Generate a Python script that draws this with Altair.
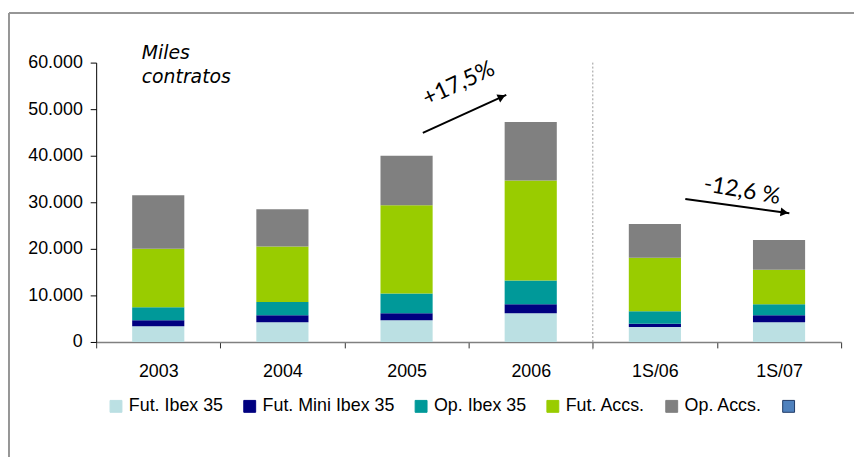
import altair as alt
import pandas as pd

# ---------------- data ----------------
periods = ["2003", "2004", "2005", "2006", "1S/06", "1S/07"]
series_names = ["Fut. Ibex 35", "Fut. Mini Ibex 35", "Op. Ibex 35", "Fut. Accs.", "Op. Accs.", " "]
fut_ibex = [3400, 4260, 4680, 6170, 3190, 4260]
fut_mini = [1280, 1480, 1490, 1920, 710, 1480]
op_ibex = [2770, 2840, 4260, 5100, 2700, 2350]
fut_accs = [12550, 11910, 18930, 21490, 11490, 7440]
op_accs = [11500, 8010, 10640, 12550, 7230, 6380]
fill_colors = ["#BBE0E3", "#000080", "#009999", "#99CC00", "#808080", "#4F81BD"]
stroke_colors = ["#BBE0E3", "#000080", "#009999", "#99CC00", "#808080", "#1F3A66"]
y_ticks = [0, 10000, 20000, 30000, 40000, 50000, 60000]

# annotations (x in category units 0..6, y in data units)
arrow_x = [2.631, 4.745]
arrow_y = [44890, 30720]
arrow_x2 = [3.303, 5.583]
arrow_y2 = [53060, 27660]
head_x = [3.267, 5.543]
head_y = [52620, 27810]
head_angle = [335.4, 7.8]
note_text = ["+17,5%", "-12,6 %"]
note_x = [2.92, 5.202]
note_y = [55470, 32490]
note_angle = [335, 10]
unit_text = ["Miles", "contratos"]
unit_x = [0.367, 0.367]
unit_y = [60850, 55530]

all_series = [fut_ibex, fut_mini, op_ibex, fut_accs, op_accs]
rows = []
for i, (name, vals) in enumerate(zip(series_names[:5], all_series)):
    for p, v in zip(periods, vals):
        rows.append({"period": p, "series": name, "value": v, "idx": i})
df = pd.DataFrame(rows)

W, H = 752, 282
yscale = alt.Scale(domain=[0, 60000], nice=False, zero=True)
xq = alt.Scale(domain=[0, 6], nice=False, zero=False)
y_axis = alt.Axis(title=None, values=y_ticks, grid=False,
                  labelExpr="replace(format(datum.value, ','), ',', '.')",
                  labelFont="Liberation Sans", labelFontSize=18,
                  labelColor="#000000", labelPadding=8, tickSize=6,
                  tickColor="#000000", domainColor="#000000", domainWidth=1)

legend_cfg = dict(
    orient="none", legendX=11, legendY=338, direction="horizontal", columns=6,
    symbolType="square", symbolSize=144, symbolStrokeWidth=1,
    labelFont="Liberation Sans", labelFontSize=18, labelColor="#000000",
    columnPadding=17, labelOffset=4, padding=0, title=None,
)

bars = alt.Chart(df).mark_bar(width=alt.RelativeBandSize(0.42), strokeWidth=0).encode(
    x=alt.X("period:N", sort=periods,
            scale=alt.Scale(paddingInner=0, paddingOuter=0),
            axis=alt.Axis(title=None, labelAngle=0, tickBand="extent",
                          labelFont="Liberation Sans", labelFontSize=18,
                          labelColor="#000000", labelPadding=15, tickSize=6,
                          tickColor="#333333", domainColor="#808080", domainWidth=1.5)),
    y=alt.Y("value:Q", stack="zero", scale=yscale, axis=y_axis),
    fill=alt.Fill("series:N", scale=alt.Scale(domain=series_names, range=fill_colors),
                  legend=alt.Legend(**legend_cfg)),
    stroke=alt.Stroke("series:N", scale=alt.Scale(domain=series_names, range=stroke_colors),
                      legend=alt.Legend(**legend_cfg)),
    order=alt.Order("idx:Q", sort="ascending"),
)

sep_df = pd.DataFrame({"x": [4.0], "value": [60000], "y2": [-1600]})
sep = alt.Chart(sep_df).mark_rule(color="#9A9A9A", strokeWidth=1, strokeDash=[2, 2]).encode(
    x=alt.X("x:Q", scale=xq, axis=None),
    y=alt.Y("value:Q", scale=yscale, axis=y_axis),
    y2="y2:Q",
)

arr_df = pd.DataFrame({"x": arrow_x, "value": arrow_y, "x2": arrow_x2, "y2": arrow_y2})
arrows = alt.Chart(arr_df).mark_rule(color="#000000", strokeWidth=2).encode(
    x=alt.X("x:Q", scale=xq, axis=None),
    y=alt.Y("value:Q", scale=yscale, axis=y_axis),
    x2="x2:Q", y2="y2:Q",
)

head_df = pd.DataFrame({"x": head_x, "value": head_y, "a": head_angle})
heads = alt.Chart(head_df).mark_point(shape="triangle-right", filled=True, size=80,
                                      color="#000000", opacity=1).encode(
    x=alt.X("x:Q", scale=xq, axis=None),
    y=alt.Y("value:Q", scale=yscale, axis=y_axis),
    angle=alt.Angle("a:Q", scale=None),
)

note_df = pd.DataFrame({"t": note_text, "x": note_x, "value": note_y, "a": note_angle})
notes = alt.Chart(note_df).mark_text(font="Lato", fontSize=23, color="#000000",
                                     align="center", baseline="middle").encode(
    x=alt.X("x:Q", scale=xq, axis=None),
    y=alt.Y("value:Q", scale=yscale, axis=y_axis),
    angle=alt.Angle("a:Q", scale=None),
    text="t:N",
)

unit_df = pd.DataFrame({"t": unit_text, "x": unit_x, "value": unit_y})
units = alt.Chart(unit_df).mark_text(font="DejaVu Sans", fontStyle="italic", fontSize=19,
                                     color="#000000", align="left",
                                     baseline="alphabetic").encode(
    x=alt.X("x:Q", scale=xq, axis=None),
    y=alt.Y("value:Q", scale=yscale, axis=y_axis),
    text="t:N",
)

one = pd.DataFrame({"a": [0]})
frame_top = alt.Chart(one).mark_rule(color="#969696", strokeWidth=2).encode(
    x=alt.value(-88), x2=alt.value(W + 40), y=alt.value(-50), y2=alt.value(-50))
frame_left = alt.Chart(one).mark_rule(color="#969696", strokeWidth=2).encode(
    x=alt.value(-88), x2=alt.value(-88), y=alt.value(-50), y2=alt.value(H + 200))

chart = alt.layer(bars, sep, arrows, heads, notes, units, frame_top, frame_left).resolve_scale(
    x="independent"
).properties(
    width=W, height=H,
    autosize=alt.AutoSizeParams(type="none"),
    padding={"left": 89, "top": 53, "right": 13, "bottom": 114},
    background="#FFFFFF",
).configure_view(stroke=None)

chart.save("out.html", embed_options={"renderer": "svg", "actions": False})
